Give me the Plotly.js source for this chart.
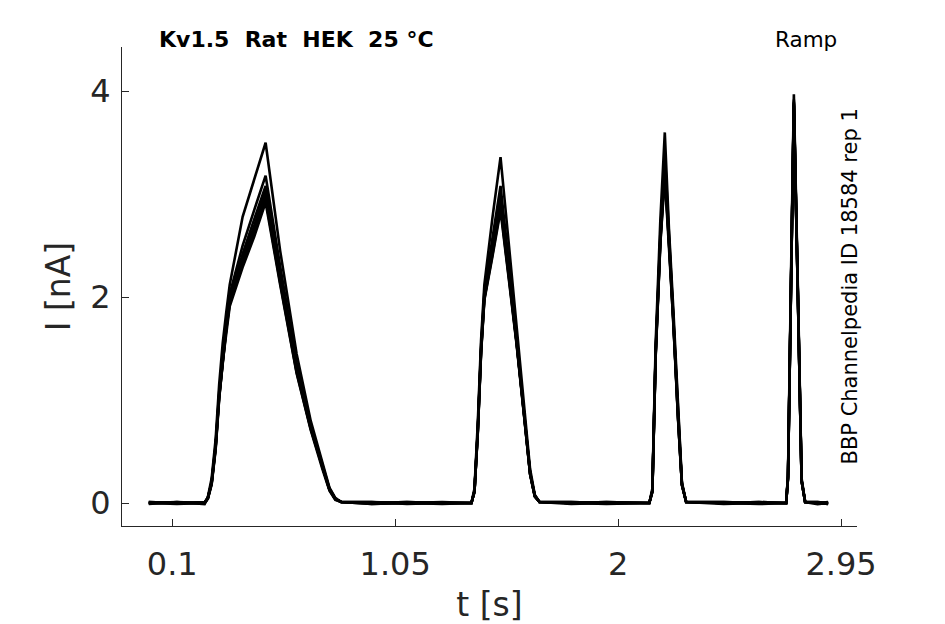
<!DOCTYPE html>
<html>
<head>
<meta charset="utf-8">
<script src="https://cdn.plot.ly/plotly-3.0.1.min.js"></script>
<style>html,body{margin:0;padding:0;background:#fff;}</style>
</head>
<body>
<div id="chart" style="width:945px;height:624px;"></div>
<script>
// time points (s), shared by all sweeps
const timeS = [
  0.00, 0.12, 0.238, 0.252, 0.268, 0.285, 0.300, 0.315, 0.330, 0.345, 0.40, 0.45, 0.498, 0.56, 0.63, 0.69, 0.74, 0.77, 0.795, 0.82, 0.95, 1.10, 1.25,
  1.375, 1.388, 1.402, 1.416, 1.430, 1.465, 1.499, 1.535, 1.567, 1.600, 1.625, 1.645, 1.665, 1.80, 1.95,
  2.133, 2.146, 2.160, 2.180, 2.199, 2.217, 2.235, 2.255, 2.272, 2.290, 2.45, 2.60,
  2.716, 2.724, 2.737, 2.749, 2.766, 2.782, 2.797, 2.85, 2.895
];
// current (nA) per sweep
const sweep1 = [
  0.00, -0.01, 0.00, 0.06, 0.24, 0.62, 1.15, 1.55, 1.85, 2.12, 2.78, 3.15, 3.50, 2.45, 1.45, 0.80, 0.38, 0.15, 0.05, 0.01, -0.01, 0.00, 0.00,
  0.00, 0.14, 0.78, 1.58, 2.12, 2.78, 3.36, 2.50, 1.72, 0.92, 0.33, 0.08, 0.01, 0.00, -0.01,
  0.00, 0.14, 1.55, 2.75, 3.60, 2.65, 1.90, 0.90, 0.20, 0.01, 0.00, -0.01,
  0.00, 0.28, 2.25, 3.97, 2.10, 0.24, 0.01, 0.00, -0.01
];
const sweep2 = [
  0.01, 0.00, 0.00, 0.05, 0.21, 0.57, 1.08, 1.46, 1.76, 2.03, 2.50, 2.85, 3.18, 2.30, 1.36, 0.76, 0.36, 0.14, 0.04, 0.01, 0.00, 0.01, 0.00,
  0.00, 0.12, 0.72, 1.52, 2.05, 2.58, 3.08, 2.32, 1.62, 0.88, 0.30, 0.07, 0.01, 0.01, 0.00,
  0.00, 0.12, 1.48, 2.62, 3.40, 2.58, 1.84, 0.86, 0.19, 0.01, 0.01, 0.00,
  0.00, 0.26, 2.18, 3.92, 2.05, 0.22, 0.01, 0.01, 0.00
];
const sweep3 = [
  -0.01, 0.01, 0.00, 0.05, 0.20, 0.55, 1.05, 1.42, 1.72, 1.99, 2.42, 2.76, 3.08, 2.25, 1.33, 0.75, 0.35, 0.14, 0.04, 0.01, 0.01, -0.01, 0.00,
  0.00, 0.12, 0.70, 1.49, 2.02, 2.50, 2.98, 2.26, 1.60, 0.86, 0.29, 0.07, 0.01, -0.01, 0.00,
  0.00, 0.12, 1.46, 2.58, 3.32, 2.56, 1.82, 0.85, 0.18, 0.01, -0.01, 0.00,
  0.00, 0.25, 2.16, 3.90, 2.04, 0.22, 0.01, -0.01, 0.00
];
const sweep4 = [
  0.00, 0.00, 0.01, 0.05, 0.20, 0.55, 1.04, 1.40, 1.70, 1.97, 2.38, 2.70, 3.03, 2.20, 1.30, 0.74, 0.35, 0.13, 0.04, 0.01, 0.00, 0.00, 0.01,
  0.00, 0.12, 0.70, 1.48, 2.00, 2.46, 2.93, 2.22, 1.58, 0.85, 0.29, 0.07, 0.01, 0.00, 0.01,
  0.00, 0.12, 1.45, 2.56, 3.27, 2.55, 1.80, 0.85, 0.18, 0.01, 0.00, 0.01,
  0.00, 0.25, 2.15, 3.89, 2.03, 0.22, 0.01, 0.00, 0.01
];
const sweep5 = [
  0.00, 0.01, -0.01, 0.05, 0.19, 0.54, 1.03, 1.39, 1.69, 1.95, 2.35, 2.66, 2.99, 2.17, 1.29, 0.73, 0.34, 0.13, 0.04, 0.01, 0.01, 0.00, -0.01,
  0.00, 0.11, 0.69, 1.47, 1.99, 2.44, 2.90, 2.20, 1.57, 0.84, 0.28, 0.07, 0.01, 0.00, 0.01,
  0.00, 0.11, 1.44, 2.55, 3.24, 2.53, 1.79, 0.84, 0.18, 0.01, 0.01, 0.00,
  0.00, 0.24, 2.14, 3.88, 2.02, 0.21, 0.01, 0.00, 0.00
];
const sweep6 = [
  0.01, 0.00, 0.00, 0.05, 0.19, 0.53, 1.02, 1.38, 1.68, 1.93, 2.32, 2.62, 2.95, 2.14, 1.27, 0.72, 0.34, 0.13, 0.04, 0.01, -0.01, 0.00, 0.00,
  0.00, 0.11, 0.68, 1.46, 1.98, 2.42, 2.87, 2.18, 1.56, 0.84, 0.28, 0.07, 0.01, 0.00, 0.00,
  0.00, 0.11, 1.43, 2.53, 3.20, 2.52, 1.78, 0.84, 0.18, 0.01, 0.00, 0.00,
  0.00, 0.24, 2.13, 3.87, 2.02, 0.21, 0.01, 0.00, -0.01
];
const sweep7 = [
  0.00, 0.00, 0.00, 0.04, 0.18, 0.52, 1.01, 1.37, 1.66, 1.91, 2.29, 2.59, 2.92, 2.12, 1.26, 0.71, 0.33, 0.12, 0.03, 0.01, 0.00, 0.01, 0.00,
  0.00, 0.11, 0.68, 1.45, 1.97, 2.40, 2.84, 2.16, 1.55, 0.83, 0.28, 0.06, 0.01, 0.01, 0.00,
  0.00, 0.11, 1.42, 2.52, 3.17, 2.50, 1.77, 0.83, 0.17, 0.01, 0.00, 0.01,
  0.00, 0.24, 2.12, 3.86, 2.01, 0.21, 0.01, 0.01, 0.00
];
const xTicks = [0.1, 1.05, 2, 2.95];
const xTickLabels = ["0.1", "1.05", "2", "2.95"];
const yTicks = [0, 2, 4];
const yTickLabels = ["0", "2", "4"];

const sweeps = [sweep1, sweep2, sweep3, sweep4, sweep5, sweep6, sweep7];
const traces = sweeps.map(s => ({
  x: timeS, y: s, type: 'scatter', mode: 'lines',
  line: {color: '#000000', width: 2.6}, hoverinfo: 'skip', showlegend: false
}));

const axisCol = '#262626';
const FONT = 'DejaVu Sans, sans-serif';
const layout = {
  width: 945, height: 624,
  margin: {l: 122, r: 88, t: 47, b: 98, pad: 0},
  paper_bgcolor: '#ffffff', plot_bgcolor: '#ffffff',
  showlegend: false,
  xaxis: {
    range: [-0.114, 3.018], tickvals: xTicks, ticktext: xTickLabels,
    ticks: 'inside', ticklen: 7, tickwidth: 1, tickcolor: axisCol,
    showline: true, linecolor: axisCol, linewidth: 1, mirror: false,
    showgrid: false, zeroline: false, ticklabelstandoff: 10,
    tickfont: {family: FONT, size: 32, color: axisCol},
    title: {text: 't [s]', font: {family: FONT, size: 33, color: axisCol}, standoff: 12}
  },
  yaxis: {
    range: [-0.223, 4.43], tickvals: yTicks, ticktext: yTickLabels,
    ticks: 'inside', ticklen: 7, tickwidth: 1, tickcolor: axisCol,
    showline: true, linecolor: axisCol, linewidth: 1, mirror: false,
    showgrid: false, zeroline: false, ticklabelstandoff: 4,
    tickfont: {family: FONT, size: 32, color: axisCol},
    title: {text: 'I [nA]', font: {family: FONT, size: 33, color: axisCol}, standoff: 9}
  },
  annotations: [
    {text: '<b>Kv1.5\u00A0\u00A0Rat\u00A0\u00A0HEK\u00A0\u00A025\u00A0°C</b>', xref: 'paper', yref: 'paper',
     x: (157 - 122) / 735, y: (526 - 40) / 479, xanchor: 'left', yanchor: 'middle',
     showarrow: false, font: {family: FONT, size: 22, color: '#000000'}},
    {text: 'Ramp', xref: 'paper', yref: 'paper',
     x: (839 - 122) / 735, y: (526 - 40) / 479, xanchor: 'right', yanchor: 'middle',
     showarrow: false, font: {family: FONT, size: 21.5, color: '#000000'}},
    {text: 'BBP Channelpedia ID 18584 rep 1', xref: 'paper', yref: 'paper',
     x: (849 - 122) / 735, y: (526 - 286.5) / 479, xanchor: 'center', yanchor: 'middle',
     textangle: -90, showarrow: false, font: {family: FONT, size: 21, color: '#000000'}}
  ]
};
Plotly.newPlot('chart', traces, layout, {displayModeBar: false, staticPlot: true});
</script>
</body>
</html>
